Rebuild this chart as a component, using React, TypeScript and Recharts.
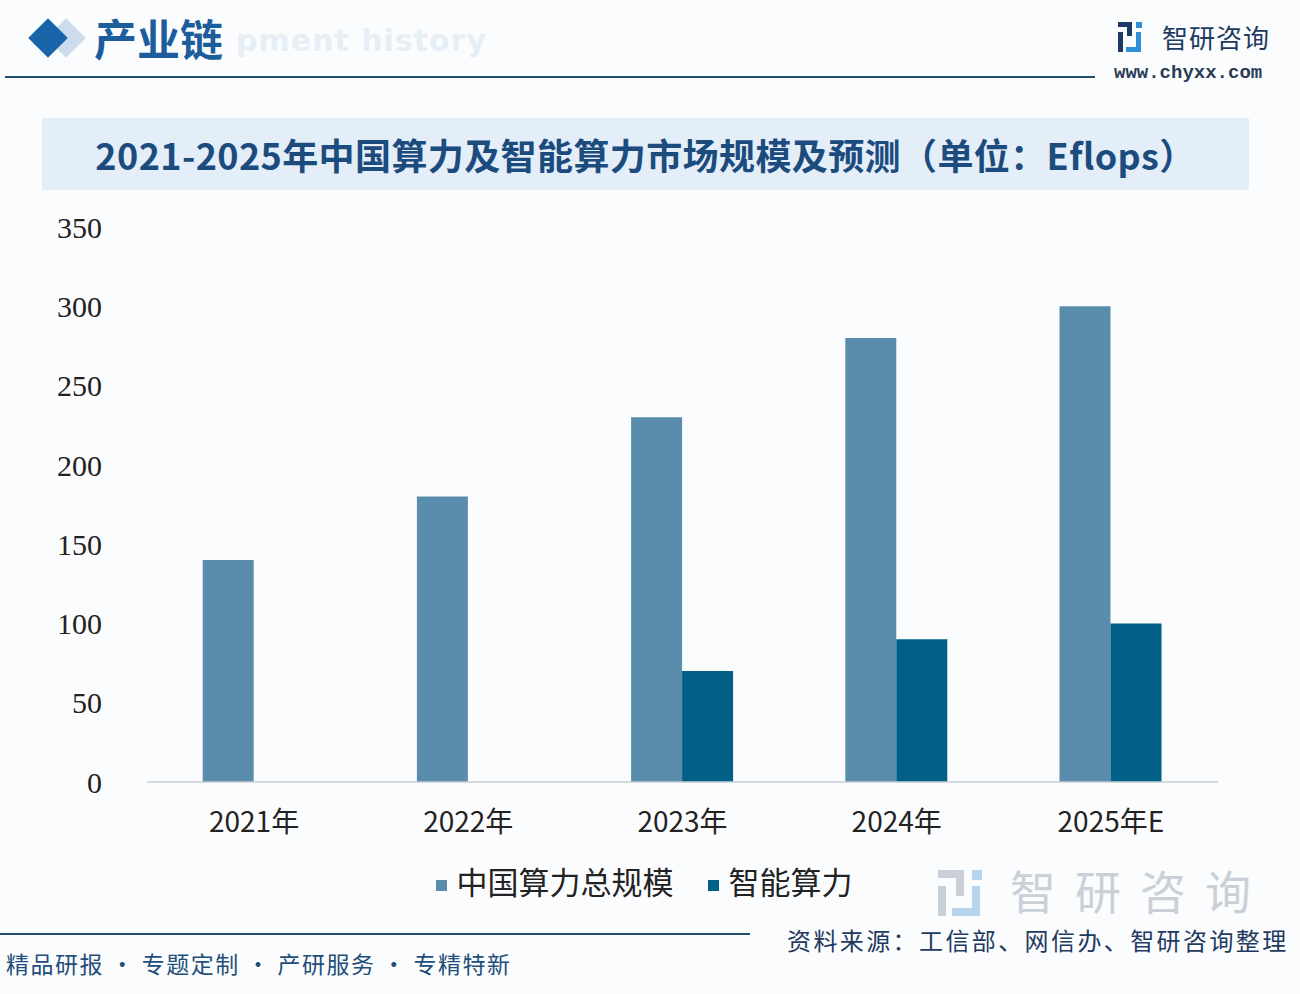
import React from 'react';
import { BarChart, Bar, XAxis, YAxis, Legend } from 'recharts';

const years = ['2021年', '2022年', '2023年', '2024年', '2025年E'];
const totalCompute = [140, 180, 230, 280, 300];
const smartCompute = [null, null, 70, 90, 100];
const yTicks = [0, 50, 100, 150, 200, 250, 300, 350];

const TOTAL_NAME = '中国算力总规模';
const SMART_NAME = '智能算力';

const TOTAL_COLOR = '#5a8dab';
const SMART_COLOR = '#025f88';
const CJK = '"Noto Sans CJK SC", "Noto Sans", sans-serif';

const data = years.map((year, i) => ({
  year,
  total: totalCompute[i],
  smart: smartCompute[i],
}));

const abs = (extra: React.CSSProperties): React.CSSProperties => ({ position: 'absolute', ...extra });

const App: React.FC = () => {
  return (
    <div style={abs({ left: 0, top: 0, width: 1300, height: 994, background: '#fbfcfe', overflow: 'hidden', fontFamily: CJK })}>
      {/* header */}
      <div style={abs({ left: 52, top: 24, width: 28, height: 28, background: '#cddcec', transform: 'rotate(45deg)' })} />
      <div style={abs({ left: 34, top: 24, width: 28, height: 28, background: '#1765a8', transform: 'rotate(45deg)' })} />
      <div style={abs({ left: 236, top: 26, fontSize: 30, lineHeight: 1, fontWeight: 700, color: '#e6eef6', fontFamily: '"DejaVu Sans", sans-serif', letterSpacing: 1 })}>
        pment history
      </div>
      <div style={abs({ left: 94, top: 14, fontSize: 43, lineHeight: 1.1, fontWeight: 700, color: '#1e5d9c', fontFamily: CJK })}>产业链</div>
      <div style={abs({ left: 5, top: 76, width: 1090, height: 2, background: '#24506e' })} />

      {/* logo */}
      <div style={abs({ left: 1118, top: 22, width: 30, height: 30 })}>
        <div style={abs({ left: 0, top: 0, width: 14, height: 5, background: '#1b3a66' })} />
        <div style={abs({ left: 9, top: 0, width: 5, height: 14, background: '#1b3a66' })} />
        <div style={abs({ left: 0, top: 10, width: 5, height: 20, background: '#1b3a66' })} />
        <div style={abs({ left: 18, top: 0, width: 6, height: 6, background: '#2f8fd8' })} />
        <div style={abs({ left: 18, top: 10, width: 5, height: 20, background: '#2f8fd8' })} />
        <div style={abs({ left: 8, top: 25, width: 15, height: 5, background: '#2f8fd8' })} />
      </div>
      <div style={abs({ left: 1162, top: 18, fontSize: 26, color: '#1f3a5f', letterSpacing: 1 })}>智研咨询</div>
      <div style={abs({ left: 1114, top: 62, fontSize: 19, color: '#2a3b55', fontFamily: '"Liberation Mono", monospace', fontWeight: 700 })}>
        www.chyxx.com
      </div>

      {/* title box */}
      <div style={abs({ left: 42, top: 118, width: 1207, height: 72, background: '#e4eef8' })} />
      <div style={abs({ left: 42, top: 118, width: 1207, height: 72, display: 'flex', alignItems: 'center', justifyContent: 'center', fontSize: 36, fontWeight: 700, color: '#1c4c7e', letterSpacing: 0.4, whiteSpace: 'nowrap' })}>
        2021-2025年中国算力及智能算力市场规模及预测（单位：Eflops）
      </div>

      {/* watermark logo */}
      <div style={abs({ left: 1010, top: 866, fontSize: 46, lineHeight: 1, color: '#c9d0d8', letterSpacing: 19, whiteSpace: 'nowrap' })}>智研咨询</div>
      <div style={abs({ left: 938, top: 870, width: 52, height: 46 })}>
        <div style={abs({ left: 0, top: 0, width: 26, height: 8, background: '#c9d0d8' })} />
        <div style={abs({ left: 18, top: 0, width: 8, height: 26, background: '#c9d0d8' })} />
        <div style={abs({ left: 0, top: 16, width: 8, height: 30, background: '#c9d0d8' })} />
        <div style={abs({ left: 34, top: 0, width: 10, height: 10, background: '#b7d4ee' })} />
        <div style={abs({ left: 34, top: 16, width: 8, height: 30, background: '#b7d4ee' })} />
        <div style={abs({ left: 14, top: 38, width: 28, height: 8, background: '#b7d4ee' })} />
      </div>

      <div style={abs({ left: 0, top: 0 })}>
        <BarChart
          width={1300}
          height={994}
          data={data}
          margin={{ top: 227, right: 82, left: 47, bottom: 107 }}
          barCategoryGap="26%"
          barGap={0}
        >
          <XAxis
            dataKey="year"
            height={60}
            axisLine={{ stroke: '#c8ccd0', strokeWidth: 1.5 }}
            tickLine={false}
            tickMargin={24}
            tick={{ fontSize: 28, fill: '#222', fontFamily: CJK }}
          />
          <YAxis
            width={100}
            domain={[0, 350]}
            ticks={yTicks}
            axisLine={false}
            tickLine={false}
            tickMargin={39}
            tick={{ fontSize: 30, fill: '#222', fontFamily: '"Liberation Serif", serif' }}
          />
          <Legend
            iconType="square"
            iconSize={11}
            wrapperStyle={{ left: 11, top: 858, width: 1300, fontSize: 31, fontFamily: CJK }}
            formatter={(value: string) => <span style={{ color: '#222', marginLeft: 6, marginRight: 24 }}>{value}</span>}
          />
          <Bar dataKey="total" name={TOTAL_NAME} fill={TOTAL_COLOR} isAnimationActive={false} />
          <Bar dataKey="smart" name={SMART_NAME} fill={SMART_COLOR} isAnimationActive={false} />
        </BarChart>
      </div>

      {/* footer */}
      <div style={abs({ left: 0, top: 933, width: 750, height: 2, background: '#24506e' })} />
      <div style={abs({ left: 6, top: 951, fontSize: 23, lineHeight: 1.1, color: '#1f4e79', letterSpacing: 1.5, whiteSpace: 'nowrap' })}>
        精品研报 · 专题定制 · 产研服务 · 专精特新
      </div>
      <div style={abs({ left: 787, top: 927, fontSize: 24, lineHeight: 1.05, color: '#1f3a5f', letterSpacing: 2.4, whiteSpace: 'nowrap' })}>
        资料来源：工信部、网信办、智研咨询整理
      </div>
    </div>
  );
};

export default App;
